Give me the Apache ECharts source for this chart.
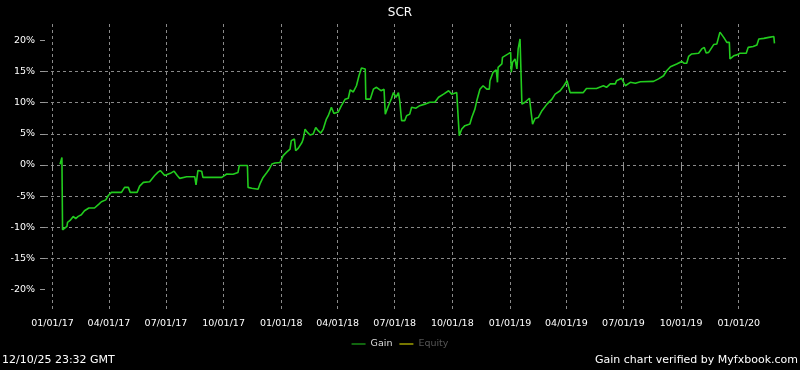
<!DOCTYPE html>
<html>
<head>
<meta charset="utf-8">
<script src="https://cdn.jsdelivr.net/npm/echarts@6/dist/echarts.min.js"></script>
<style>html,body{margin:0;padding:0;background:#000;}#c{width:800px;height:370px;}</style>
</head>
<body>
<div id="c"></div>
<script>
const titleText = 'SCR';
const dates = [
'2017-01-13','2017-01-15','2017-01-16','2017-01-17','2017-01-24','2017-01-25','2017-01-29','2017-02-03','2017-02-07','2017-02-11',
'2017-02-16','2017-02-21','2017-02-28','2017-03-09','2017-03-16','2017-03-20','2017-03-27','2017-03-31','2017-04-05','2017-04-21',
'2017-04-26','2017-05-02','2017-05-05','2017-05-16','2017-05-20','2017-05-26','2017-06-05','2017-06-13','2017-06-18','2017-06-22',
'2017-06-29','2017-07-08','2017-07-14','2017-07-19','2017-07-23','2017-08-03','2017-08-16','2017-08-18','2017-08-21','2017-08-27',
'2017-08-29','2017-09-28','2017-10-06','2017-10-16','2017-10-24','2017-10-26','2017-11-08','2017-11-09','2017-11-15','2017-11-25',
'2017-11-28','2017-12-03','2017-12-09','2017-12-13','2017-12-17','2017-12-22','2017-12-30','2018-01-04','2018-01-10','2018-01-15',
'2018-01-17','2018-01-22','2018-01-24','2018-01-28','2018-02-03','2018-02-05','2018-02-08','2018-02-11','2018-02-16','2018-02-21',
'2018-02-25','2018-03-01','2018-03-05','2018-03-09','2018-03-14','2018-03-17','2018-03-22','2018-03-26','2018-04-02','2018-04-07',
'2018-04-13','2018-04-18','2018-04-21','2018-04-26','2018-04-29','2018-05-01','2018-05-05','2018-05-09','2018-05-15','2018-05-16',
'2018-05-23','2018-05-28','2018-06-02','2018-06-09','2018-06-14','2018-06-16','2018-06-21','2018-06-26','2018-06-29','2018-07-03',
'2018-07-07','2018-07-09','2018-07-12','2018-07-17','2018-07-20','2018-07-25','2018-07-28','2018-08-04','2018-08-10','2018-08-18',
'2018-08-26','2018-09-03','2018-09-09','2018-09-17','2018-09-25','2018-09-30','2018-10-08','2018-10-11','2018-10-12','2018-10-16',
'2018-10-21','2018-10-29','2018-11-01','2018-11-06','2018-11-09','2018-11-14','2018-11-19','2018-11-22','2018-11-25','2018-11-29',
'2018-11-30','2018-12-05','2018-12-10','2018-12-12','2018-12-13','2018-12-19','2018-12-20','2018-12-29','2019-01-02','2019-01-03',
'2019-01-05','2019-01-09','2019-01-12','2019-01-14','2019-01-17','2019-01-20','2019-01-25','2019-02-01','2019-02-06','2019-02-10',
'2019-02-15','2019-02-21','2019-03-01','2019-03-09','2019-03-14','2019-03-22','2019-03-28','2019-04-02','2019-04-07','2019-04-28',
'2019-05-03','2019-05-19','2019-05-30','2019-06-04','2019-06-10','2019-06-18','2019-06-20','2019-06-28','2019-07-04','2019-07-12',
'2019-07-20','2019-07-28','2019-08-18','2019-08-26','2019-09-03','2019-09-08','2019-09-14','2019-09-24','2019-10-02','2019-10-06',
'2019-10-10','2019-10-13','2019-10-18','2019-10-29','2019-11-03','2019-11-07','2019-11-10','2019-11-14','2019-11-22','2019-11-27',
'2019-12-02','2019-12-08','2019-12-13','2019-12-17','2019-12-18','2019-12-24','2019-12-29','2020-01-03','2020-01-13','2020-01-16',
'2020-01-24','2020-01-30','2020-02-02','2020-02-10','2020-02-18','2020-02-26','2020-02-27'
];
const gain = [
0.1,0.4,1.2,-10.4,-9.85,-9.2,-8.9,-8.25,-8.6,-8.25,
-8.0,-7.35,-6.9,-6.9,-6.27,-5.9,-5.6,-4.9,-4.4,-4.4,
-3.6,-3.6,-4.4,-4.4,-3.4,-2.8,-2.7,-1.7,-1.2,-0.9,
-1.7,-1.35,-1.0,-1.7,-2.15,-1.9,-1.9,-3.2,-0.9,-1.0,
-2.0,-2.0,-1.45,-1.5,-1.2,-0.1,-0.1,-3.6,-3.75,-3.9,
-3.05,-2.0,-1.2,-0.65,0.15,0.3,0.4,1.5,2.1,2.55,
3.9,4.15,2.3,2.65,3.6,4.15,5.75,5.3,4.8,4.95,
6.0,5.5,5.1,5.75,7.35,7.9,9.25,8.25,8.5,9.5,
10.55,10.7,12.05,11.7,11.6,12.7,14.3,15.55,15.4,10.55,
10.55,12.15,12.45,11.9,12.15,8.15,9.5,10.7,11.6,10.85,
11.6,10.3,7.1,7.1,7.9,8.15,9.25,9.1,9.5,9.75,
10.05,10.05,10.85,11.35,11.9,11.35,11.6,11.6,4.7,5.75,
6.3,6.55,7.6,8.95,10.3,12.15,12.7,13.0,12.15,12.15,
13.5,14.85,15.25,13.25,15.65,16.2,17.25,17.8,18.05,14.85,
16.45,17.0,15.4,18.6,20.2,9.75,10.05,10.7,6.55,7.45,
7.6,8.7,9.75,10.55,11.35,11.9,12.7,13.5,11.6,11.6,
12.25,12.25,12.7,12.45,13.0,13.0,13.5,13.9,12.7,13.25,
13.1,13.35,13.4,13.8,14.3,15.1,15.75,16.2,16.6,16.3,
16.3,17.4,17.8,17.9,18.6,18.85,17.95,18.05,19.3,19.4,
21.3,20.45,19.65,19.65,17.0,17.5,17.65,17.9,17.9,18.85,
19.0,19.25,20.2,20.3,20.45,20.6,19.5
];
const xTicks = ['2017-01-01','2017-04-01','2017-07-01','2017-10-01','2018-01-01','2018-04-01','2018-07-01','2018-10-01','2019-01-01','2019-04-01','2019-07-01','2019-10-01','2020-01-01'];
const xRange = ['2016-12-20','2020-03-18'];
const yTicks = [-20,-15,-10,-5,0,5,10,15,20];
const legendNames = ['Gain','Equity'];
const footLeft = '12/10/25 23:32 GMT';
const footRight = 'Gain chart verified by Myfxbook.com';

const font = 'DejaVu Sans';
const ts = s => Date.parse(s + 'T00:00:00Z');
function pad(n){return (n<10?'0':'')+n;}
const chart = echarts.init(document.getElementById('c'), null, {renderer:'canvas'});
chart.setOption({
  backgroundColor:'#000',
  animation:false,
  title:{text:titleText,left:'center',top:2,textStyle:{color:'#fff',fontFamily:font,fontSize:12,fontWeight:'normal'}},
  grid:{left:45,right:13,top:24,bottom:60},
  legend:{
    left:'center',top:334,icon:'rect',itemWidth:14,itemHeight:1,itemGap:7,
    textStyle:{fontFamily:font,fontSize:9.5,color:'#ddd'},
    data:[{name:legendNames[0],textStyle:{color:'#dddddd'}},{name:legendNames[1],textStyle:{color:'#555555'}}],
    selectedMode:false
  },
  xAxis:{
    type:'value',min:ts(xRange[0]),max:ts(xRange[1]),
    axisLine:{show:false},
    axisTick:{show:true,length:6,lineStyle:{color:'#999'},customValues:xTicks.map(ts)},
    axisLabel:{color:'#fff',fontFamily:font,fontSize:9.5,margin:9,hideOverlap:false,customValues:xTicks.map(ts),
      formatter:function(v){const d=new Date(v);return pad(d.getUTCMonth()+1)+'/'+pad(d.getUTCDate())+'/'+pad(d.getUTCFullYear()%100);}},
    splitLine:{show:true,lineStyle:{color:'#8a8a8a',type:[3,3],width:1}}
  },
  yAxis:{
    type:'value',min:-23.26,max:22.6,
    axisLine:{show:false},
    axisTick:{show:true,length:5,lineStyle:{color:'#999'},customValues:yTicks},
    axisLabel:{color:'#fff',fontFamily:font,fontSize:9.5,margin:10,customValues:yTicks,formatter:function(v){return v+'%';}},
    splitLine:{show:true,showMinLine:false,showMaxLine:false,lineStyle:{color:'#8a8a8a',type:[3,3],width:1}}
  },
  series:[
    {name:legendNames[0],type:'line',showSymbol:false,symbol:'none',color:'#22cc1e',lineStyle:{width:1.6,color:'#22cc1e'},
     data:dates.map((d,i)=>[ts(d),gain[i]])},
    {name:legendNames[1],type:'line',showSymbol:false,symbol:'none',color:'#eeee00',lineStyle:{width:1,color:'#eeee00'},data:[]}
  ],
  graphic:[
    {type:'text',left:2,top:355,style:{text:footLeft,fill:'#fff',font:'11px "DejaVu Sans"'}},
    {type:'text',right:2,top:355,style:{text:footRight,fill:'#fff',font:'11px "DejaVu Sans"'}}
  ]
});
</script>
</body>
</html>
